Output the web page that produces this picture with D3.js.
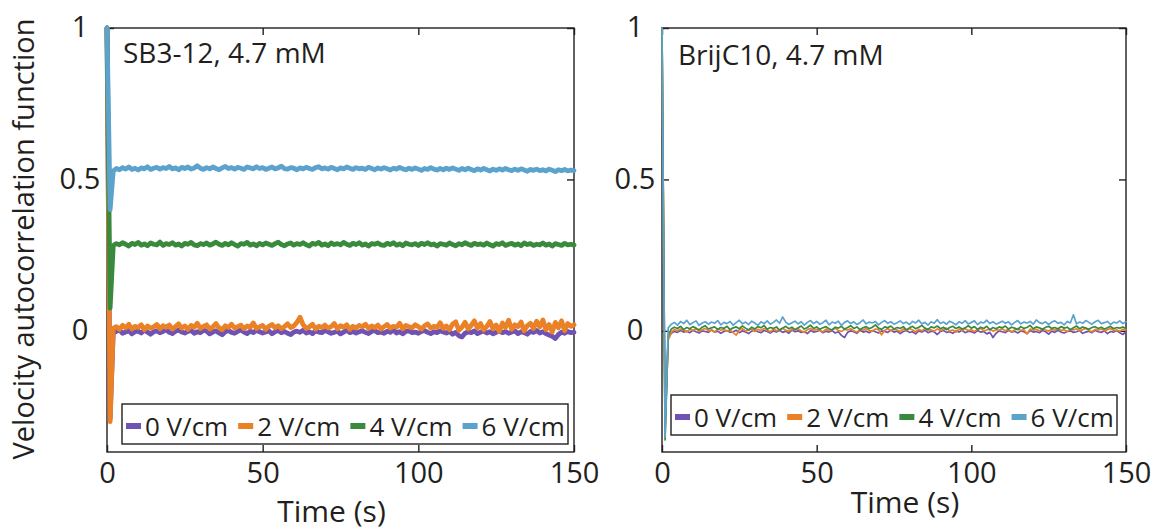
<!DOCTYPE html>
<html>
<head>
<meta charset="utf-8">
<script src="https://cdn.jsdelivr.net/npm/d3@7"></script>
<style>
  body { margin: 0; background: #fff; }
  svg { font-family: 'Open Sans', sans-serif; }
</style>
</head>
<body>
<div id="vis"></div>
<script>
var fieldLabels = ['0 V/cm', '2 V/cm', '4 V/cm', '6 V/cm'];
var xTicks = [0, 50, 100, 150];
var yTicks = [0, 0.5, 1];
var lagStep = 1; // seconds between lag points

// velocity autocorrelation, values x1000, one per lag (0..150 s)
var sb312_0 = [
  1000,-290,-6,-2,3,-8,-4,1,-10,-3,
  -1,-7,2,-4,-11,-3,0,-6,-2,4,
  -5,-9,-1,3,-4,-7,-2,1,-8,-3,
  -6,2,-1,-10,-4,0,-7,-13,-3,1,
  -5,-8,-2,3,-4,-9,-1,-6,2,-3,
  -7,-4,0,-10,-3,1,-6,-2,-8,-12,
  -4,-1,-5,2,-7,-3,-9,0,-4,-6,
  1,-3,-8,-5,-1,-10,-4,2,-6,-2,
  -7,-3,0,-5,-9,-2,1,-6,-4,-8,
  -1,-5,3,-7,-3,-10,-2,0,-6,-4,
  -8,-2,1,-5,-9,-3,-6,0,-4,-7,
  -2,-11,-5,-16,-20,-8,-3,-6,0,-9,
  -4,-1,-7,-3,-10,-5,1,-6,-2,-8,
  -4,0,-9,-3,-6,-11,-2,-5,1,-7,
  -3,-9,-14,-18,-25,-12,-4,-8,-2,-6,
  -5];
var sb312_2 = [
  1000,-300,8,14,5,18,10,22,6,15,
  11,20,4,16,9,13,21,7,17,12,
  19,6,14,23,9,16,5,18,12,25,
  8,15,20,6,13,24,10,4,17,11,
  22,9,14,19,7,16,12,26,8,13,
  18,5,15,21,10,17,7,14,23,11,
  16,28,45,20,8,13,22,6,15,11,
  19,9,14,24,7,17,12,20,5,15,
  10,18,13,22,8,16,11,19,6,14,
  21,9,15,12,25,7,18,13,10,20,
  14,6,17,23,9,15,11,27,8,16,
  4,22,30,2,12,28,6,18,33,9,
  24,3,15,31,7,19,-2,26,11,35,
  5,20,14,29,0,17,25,8,32,13,
  36,4,21,-4,28,10,33,1,24,15,
  20];
var sb312_4 = [
  1000,75,282,288,284,291,286,280,289,285,
  292,283,287,281,290,286,284,293,282,288,
  285,291,283,287,280,289,286,292,284,281,
  288,285,290,283,287,293,286,282,289,284,
  291,285,280,288,286,292,283,287,281,289,
  284,290,286,282,288,293,285,281,287,290,
  283,288,285,291,284,280,289,286,292,283,
  287,281,290,285,288,284,292,286,282,289,
  285,291,283,287,280,288,286,290,284,282,
  289,285,291,283,287,281,290,286,284,288,
  282,289,285,291,284,287,280,288,286,283,
  290,285,281,288,284,291,286,282,289,285,
  287,283,290,284,280,288,285,291,282,286,
  289,283,287,281,290,285,288,282,286,284,
  290,283,287,280,288,285,282,289,284,286,
  283];
var sb312_6 = [
  1000,400,528,536,532,539,534,541,533,537,
  531,538,535,542,533,537,540,534,539,536,
  543,535,538,532,540,536,541,534,538,545,
  537,533,539,535,541,536,532,538,543,536,
  539,534,540,537,533,541,538,535,542,536,
  539,533,537,541,535,538,544,536,534,539,
  537,532,538,535,540,536,533,539,542,535,
  538,534,540,536,532,538,535,541,537,533,
  539,535,537,533,540,536,532,538,534,539,
  535,531,537,534,540,535,532,537,533,538,
  534,530,536,533,539,534,531,536,532,537,
  533,538,534,530,536,532,537,533,529,535,
  531,536,532,528,534,530,535,531,536,532,
  529,534,530,535,531,527,533,530,534,529,
  532,528,534,530,526,532,529,533,528,531,
  529];

var brij_0 = [
  1000,-320,-25,-8,-2,-5,1,-4,-1,-6,
  2,-3,-7,0,-2,-5,3,-4,-1,-8,
  -2,1,-5,-3,2,-6,0,-4,-9,-1,
  3,-3,-6,1,-2,-7,0,-4,2,-5,
  -1,-8,3,-3,0,-5,-2,-9,1,-4,
  -2,2,-6,-1,-4,1,-7,-3,-15,-22,
  -5,0,-3,-8,2,-4,-1,-6,1,-3,
  -7,0,-2,-5,3,-4,-1,-9,-2,1,
  -5,-3,-10,0,-4,2,-6,-1,-3,-12,
  -2,1,-5,-3,-8,0,-4,2,-6,-1,
  -3,-7,1,-4,-2,-10,-5,-22,-8,0,
  -3,-6,2,-4,-1,-7,0,-3,-9,1,
  -4,-2,-6,1,-3,-11,-1,-5,2,-4,
  -7,-2,0,-5,-3,1,-8,-4,-1,-6,
  2,-3,-5,0,-9,-2,-4,1,-6,-12,
  -3];
var brij_2 = [
  1000,-330,-30,-5,4,0,6,2,-3,5,
  1,7,-2,4,8,0,3,-4,6,2,
  5,-1,3,-6,-14,4,7,0,2,6,
  -2,5,1,8,3,-3,6,0,4,9,
  2,-1,5,3,7,0,-5,4,8,1,
  5,2,-3,6,0,4,9,1,-2,5,
  3,7,0,-4,5,2,8,1,-1,6,
  4,-13,2,7,0,5,3,-2,6,1,
  8,3,-3,5,0,7,2,4,-1,6,
  1,5,9,0,3,-4,6,2,7,1,
  4,-2,5,8,0,3,6,-1,4,2,
  7,0,5,-3,3,8,1,4,-10,6,
  2,5,0,7,3,-1,6,2,8,1,
  4,-2,5,3,7,0,4,9,1,-3,
  5,2,6,0,4,8,1,3,-1,5,
  3];
var brij_4 = [
  1000,-360,-15,6,12,8,15,4,11,7,
  14,9,3,12,17,6,10,13,5,11,
  8,15,4,10,13,7,16,9,3,12,
  6,14,10,18,5,11,8,13,2,9,
  15,7,12,4,10,16,6,11,19,8,
  13,5,10,14,7,3,12,9,15,6,
  11,17,8,13,4,10,14,7,12,20,
  9,5,13,10,16,6,11,8,14,3,
  10,15,7,12,18,9,5,13,10,16,
  7,12,4,11,15,8,13,6,10,17,
  9,14,5,12,8,15,3,11,7,13,
  10,16,6,12,9,4,14,8,11,18,
  7,13,10,5,12,15,8,11,6,14,
  9,12,4,10,16,7,13,9,5,11,
  14,8,12,6,10,15,7,11,9,13,
  8];
var brij_6 = [
  1000,-350,10,22,28,19,31,24,35,21,
  27,33,18,26,30,22,29,25,34,20,
  28,24,31,19,27,35,23,29,21,32,
  26,18,30,24,33,22,28,36,25,46,
  29,21,27,32,23,30,19,28,34,24,
  31,22,27,35,20,29,25,32,18,28,
  33,24,30,21,27,36,23,29,26,31,
  20,28,34,25,30,22,27,33,24,29,
  21,31,26,35,23,28,19,30,25,37,
  24,29,22,32,27,20,30,25,34,23,
  28,33,21,29,26,35,24,30,22,27,
  32,25,30,20,28,34,23,29,26,31,
  22,36,27,24,30,21,29,33,25,28,
  20,31,26,53,23,29,25,34,28,22,
  30,35,24,27,31,21,29,26,33,24,
  30];

var width = 1158;
var height = 531;
var colors = ['#7052b2', '#ea8127', '#3a8a3e', '#5ba3cd'];
var ink = '#231f20';
var plotTop = 28;
var plotBottom = 452;

var panels = [
  { title: 'SB3-12, 4.7 mM', series: [sb312_0, sb312_2, sb312_4, sb312_6],
    left: 107, right: 574, lineWidth: 4.8, titleY: 63,
    legendX: 15, legendTop: 404, xLabelDx: -9, xLabelY: 522 },
  { title: 'BrijC10, 4.7 mM', series: [brij_0, brij_2, brij_4, brij_6],
    left: 662, right: 1126, lineWidth: 1.7, titleY: 65,
    legendX: 9, legendTop: 395, xLabelDx: 11, xLabelY: 513 }
];

var svg = d3.select('#vis').append('svg')
  .attr('width', width)
  .attr('height', height);

// y axis title, only once on the left
svg.append('text')
  .attr('transform', 'translate(34,' + 239 + ') rotate(-90)')
  .attr('text-anchor', 'middle')
  .attr('font-size', 29)
  .attr('fill', ink)
  .text('Velocity autocorrelation function');

panels.forEach(function (p) {
  var x = d3.scaleLinear().domain([0, 150]).range([p.left, p.right]);
  var y = d3.scaleLinear().domain([-0.4, 1]).range([plotBottom, plotTop]);

  var g = svg.append('g');

  // frame
  g.append('rect')
    .attr('x', p.left)
    .attr('y', plotTop)
    .attr('width', p.right - p.left)
    .attr('height', plotBottom - plotTop)
    .attr('fill', 'none')
    .attr('stroke', ink)
    .attr('stroke-width', 1.4);

  // inward ticks on all four sides
  var axes = [
    { ax: d3.axisBottom(x).tickValues(xTicks).tickFormat(d3.format('d')), tr: 'translate(0,' + plotBottom + ')' },
    { ax: d3.axisTop(x).tickValues(xTicks).tickFormat(''), tr: 'translate(0,' + plotTop + ')' },
    { ax: d3.axisLeft(y).tickValues(yTicks).tickFormat(function (d) { return d; }), tr: 'translate(' + p.left + ',0)' },
    { ax: d3.axisRight(y).tickValues(yTicks).tickFormat(''), tr: 'translate(' + p.right + ',0)' }
  ];
  axes.forEach(function (a, i) {
    var ag = g.append('g')
      .attr('transform', a.tr)
      .call(a.ax.tickSize(-7).tickPadding(i === 0 ? 10 : 10));
    ag.select('.domain').remove();
    ag.selectAll('line').attr('stroke', ink).attr('stroke-width', 1.4);
    ag.selectAll('text')
      .attr('fill', ink)
      .style('font-size', '29px')
      .style('font-family', "'Open Sans', sans-serif");
    if (i === 2) {
      ag.selectAll('text').attr('text-anchor', 'middle').attr('x', -27).attr('dy', '0.3em');
    }
  });

  // curves, drawn purple first so blue ends on top
  var line = d3.line()
    .x(function (d, i) { return x(i * lagStep); })
    .y(function (d) { return y(d / 1000); });

  g.selectAll('.curve')
    .data(p.series)
    .enter()
    .append('path')
    .attr('class', 'curve')
    .attr('d', line)
    .attr('fill', 'none')
    .attr('stroke', function (d, i) { return colors[i]; })
    .attr('stroke-width', p.lineWidth)
    .attr('stroke-linejoin', 'round')
    .attr('stroke-linecap', 'round');

  // panel title
  g.append('text')
    .attr('x', p.left + 16)
    .attr('y', p.titleY)
    .attr('font-size', 28)
    .attr('fill', ink)
    .text(p.title);

  // x axis title
  g.append('text')
    .attr('x', (p.left + p.right) / 2 + p.xLabelDx)
    .attr('y', p.xLabelY)
    .attr('text-anchor', 'middle')
    .attr('font-size', 30)
    .attr('fill', ink)
    .text('Time (s)');

  // legend
  var lx = p.left + p.legendX;
  var ly = p.legendTop;
  var leg = g.append('g');
  leg.append('rect')
    .attr('x', lx)
    .attr('y', ly)
    .attr('width', 446)
    .attr('height', 40)
    .attr('fill', '#fff')
    .attr('stroke', ink)
    .attr('stroke-width', 1.4);

  var cx = lx + 4;
  fieldLabels.forEach(function (lab, i) {
    leg.append('rect')
      .attr('x', cx)
      .attr('y', ly + 19)
      .attr('width', 15)
      .attr('height', 6)
      .attr('fill', colors[i]);
    var t = leg.append('text')
      .attr('x', cx + 19)
      .attr('y', ly + 32)
      .attr('font-size', 26)
      .attr('fill', ink)
      .text(lab);
    cx += 19 + t.node().getComputedTextLength() + 10;
  });
});
</script>
</body>
</html>
